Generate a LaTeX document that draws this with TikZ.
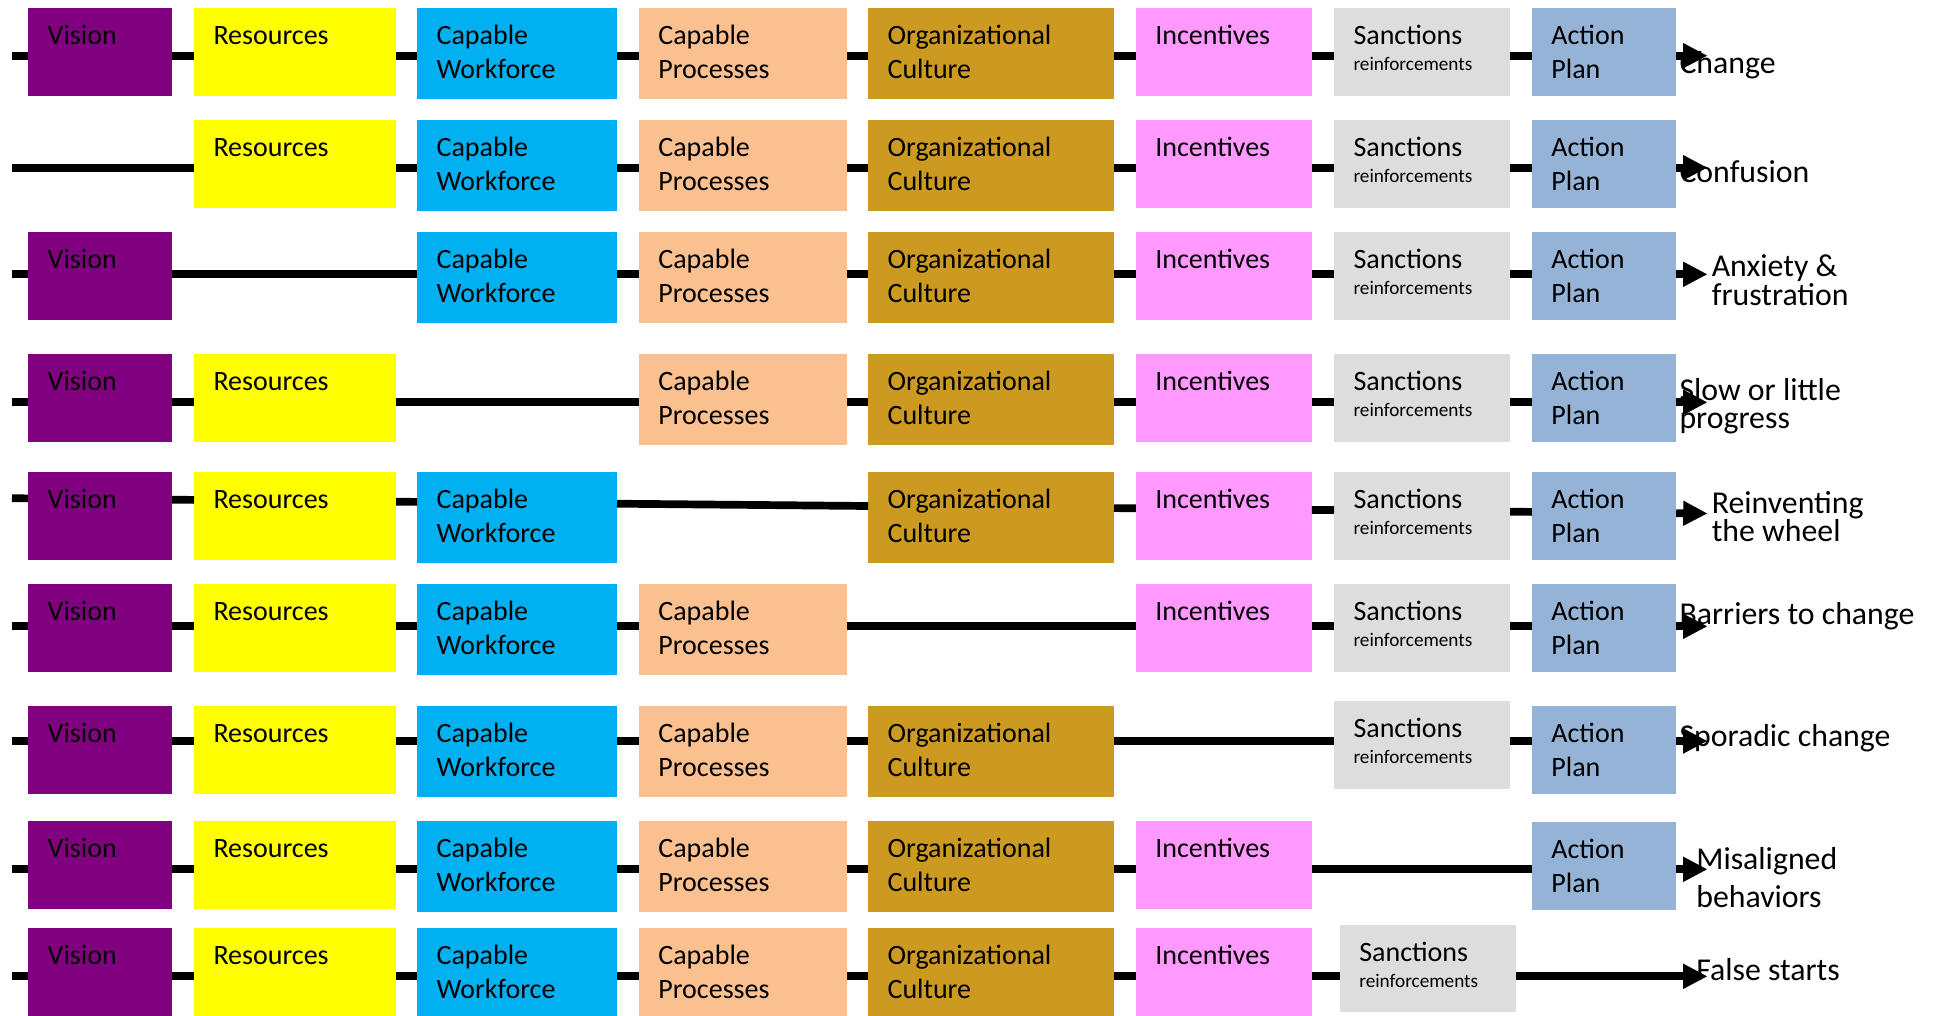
\documentclass[tikz,border=0pt]{standalone}
\usepackage{fontspec}
\setmainfont{Carlito}
\usetikzlibrary{arrows.meta}

\definecolor{cV}{HTML}{800080}
\definecolor{cR}{HTML}{FFFF00}
\definecolor{cW}{HTML}{00B0F0}
\definecolor{cP}{HTML}{FAC090}
\definecolor{cC}{HTML}{CC9A20}
\definecolor{cI}{HTML}{FF99FF}
\definecolor{cS}{HTML}{DDDDDD}
\definecolor{cA}{HTML}{95B3D7}

\tikzset{
  blk/.style={anchor=north west, inner sep=0pt, outer sep=0pt, draw=none},
  btxt/.style={anchor=base west, inner sep=0pt, outer sep=0pt, align=left,
    font=\fontsize{14}{16.7}\selectfont},
  lbl/.style={anchor=base west, inner sep=0pt, outer sep=0pt, align=left,
    font=\fontsize{15.9}{14}\selectfont},
  conn/.style={line width=3.85pt, black},
  tip/.style={conn, -{Triangle[length=12.2pt,width=11.7pt]}}
}

% small second line of the Sanctions boxes
\newcommand\rf{\fontsize{9.6}{10}\selectfont}

% a coloured block with its caption in the upper left corner
% #1 name, #2 left x, #3 top y, #4 width, #5 height, #6 fill, #7 caption,
% #8 distance from the top to the baseline of the caption's last line
\newcommand\mkbox[8]{%
  \node[blk, fill=#6, minimum width={#4*0.5pt}, minimum height={#5*0.5pt}] (#1) at (#2,#3) {};
  \node[btxt] (#1t) at ([shift={(19.5,#8)}]#1.north west) {#7};
}
% the eight blocks of a row: #1 row, #2 top y
\newcommand\bV[2]{\mkbox{v#1}{28.2}{#2}{144}{88}{cV}{Vision}{36.8}}
\newcommand\bR[2]{\mkbox{r#1}{194}{#2}{202.1}{88}{cR}{Resources}{36.8}}
\newcommand\bW[2]{\mkbox{w#1}{417.1}{#2}{199.9}{90.7}{cW}{Capable\\Workforce}{70.2}}
\newcommand\bP[2]{\mkbox{p#1}{638.9}{#2}{208.2}{90.7}{cP}{Capable\\Processes}{70.2}}
\newcommand\bC[2]{\mkbox{c#1}{868.1}{#2}{245.9}{90.7}{cC}{Organizational\\Culture}{70.2}}
\newcommand\bI[2]{\mkbox{i#1}{1135.8}{#2}{176}{88}{cI}{Incentives}{36.8}}
\newcommand\bS[2]{\mkbox{s#1}{1334}{#2}{176.1}{88}{cS}{Sanctions\\[-3.85pt]{\rf reinforcements}}{62.3}}
\newcommand\bA[2]{\mkbox{a#1}{1531.9}{#2}{144.3}{88}{cA}{Action\\Plan}{70.2}}

% link between two blocks at the height of a row coordinate
\newcommand\seg[3]{\draw[conn] (#1.east |- #3) -- (#2.west |- #3);}

\begin{document}
\begin{tikzpicture}[x=0.5pt,y=-0.5pt]
\useasboundingbox (0,0) rectangle (1936,1016);

% ---------- row 1: everything in place -> Change
\bV{1}{8}\bR{1}{8}\bW{1}{8}\bP{1}{8}\bC{1}{8}\bI{1}{8}\bS{1}{8}\bA{1}{8}
\coordinate (st1) at (12,55.7);
\coordinate (en1) at (1707.6,55.7);
\draw[conn] (st1) -- (v1.west |- st1);
\seg{v1}{r1}{st1}\seg{r1}{w1}{st1}\seg{w1}{p1}{st1}\seg{p1}{c1}{st1}
\seg{c1}{i1}{st1}\seg{i1}{s1}{st1}\seg{s1}{a1}{st1}
\node[lbl] (l1) at (1679.5,73.3) {Change};
\draw[tip] (a1.east |- en1) -- (en1);

% ---------- row 2: no vision -> Confusion
\bR{2}{120}\bW{2}{120}\bP{2}{120}\bC{2}{120}\bI{2}{120}\bS{2}{120}\bA{2}{120}
\coordinate (st2) at (12,167.7);
\coordinate (en2) at (1707.6,167.7);
\draw[conn] (st2) -- (r2.west |- st2);
\seg{r2}{w2}{st2}\seg{w2}{p2}{st2}\seg{p2}{c2}{st2}
\seg{c2}{i2}{st2}\seg{i2}{s2}{st2}\seg{s2}{a2}{st2}
\node[lbl] (l2) at (1679.5,182.7) {Confusion};
\draw[tip] (a2.east |- en2) -- (en2);

% ---------- row 3: no resources -> Anxiety & frustration
\bV{3}{232}\bW{3}{232}\bP{3}{232}\bC{3}{232}\bI{3}{232}\bS{3}{232}\bA{3}{232}
\coordinate (st3) at (12,274.3);
\coordinate (en3) at (1707.6,274.3);
\draw[conn] (st3) -- (v3.west |- st3);
\seg{v3}{w3}{st3}\seg{w3}{p3}{st3}\seg{p3}{c3}{st3}
\seg{c3}{i3}{st3}\seg{i3}{s3}{st3}\seg{s3}{a3}{st3}
\node[lbl] (l3) at (1711.8,305) {Anxiety \&\\frustration};
\draw[tip] (a3.east |- en3) -- (en3);

% ---------- row 4: no capable workforce -> Slow or little progress
\bV{4}{354}\bR{4}{354}\bP{4}{354}\bC{4}{354}\bI{4}{354}\bS{4}{354}\bA{4}{354}
\coordinate (st4) at (12,402.3);
\coordinate (en4) at (1707.6,402.3);
\draw[conn] (st4) -- (v4.west |- st4);
\seg{v4}{r4}{st4}\seg{r4}{p4}{st4}\seg{p4}{c4}{st4}
\seg{c4}{i4}{st4}\seg{i4}{s4}{st4}\seg{s4}{a4}{st4}
\node[lbl] (l4) at (1679.5,428.3) {Slow or little\\progress};
\draw[tip] (a4.east |- en4) -- (en4);

% ---------- row 5: no capable processes -> Reinventing the wheel (line drifts down)
\bV{5}{472}\bR{5}{472}\bW{5}{472}\bC{5}{472}\bI{5}{472}\bS{5}{472}\bA{5}{472}
\coordinate (st5) at (12,498.2);
\coordinate (en5) at (1707.6,513.5);
\draw[conn] (st5) -- (v5.west |- 0,498.4);
\draw[conn] (v5.east |- 0,499.7) -- (r5.west |- 0,499.9);
\draw[conn] (r5.east |- 0,501.7) -- (w5.west |- 0,501.9);
\draw[conn] (w5.east |- 0,503.7) -- (c5.west |- 0,506.0);
\draw[conn] (c5.east |- 0,508.1) -- (i5.west |- 0,508.3);
\draw[conn] (i5.east |- 0,509.9) -- (s5.west |- 0,510.1);
\draw[conn] (s5.east |- 0,511.7) -- (a5.west |- 0,511.9);
\node[lbl] (l5) at (1711.8,541.5) {Reinventing\\the wheel};
\draw[tip] (a5.east |- 0,513.2) -- (en5);

% ---------- row 6: no organizational culture -> Barriers to change
\bV{6}{584}\bR{6}{584}\bW{6}{584}\bP{6}{584}\bI{6}{584}\bS{6}{584}\bA{6}{584}
\coordinate (st6) at (12,626.3);
\coordinate (en6) at (1707.6,626.3);
\draw[conn] (st6) -- (v6.west |- st6);
\seg{v6}{r6}{st6}\seg{r6}{w6}{st6}\seg{w6}{p6}{st6}
\seg{p6}{i6}{st6}\seg{i6}{s6}{st6}\seg{s6}{a6}{st6}
\node[lbl] (l6) at (1679.5,624) {Barriers to change};
\draw[tip] (a6.east |- en6) -- (en6);

% ---------- row 7: no incentives -> Sporadic change
\bV{7}{706}\bR{7}{706}\bW{7}{706}\bP{7}{706}\bC{7}{706}\bS{7}{701}\bA{7}{706}
\coordinate (st7) at (12,741);
\coordinate (en7) at (1707.6,741);
\draw[conn] (st7) -- (v7.west |- st7);
\seg{v7}{r7}{st7}\seg{r7}{w7}{st7}\seg{w7}{p7}{st7}
\seg{p7}{c7}{st7}\seg{c7}{s7}{st7}\seg{s7}{a7}{st7}
\node[lbl] (l7) at (1679.5,746.7) {Sporadic change};
\draw[tip] (a7.east |- en7) -- (en7);

% ---------- row 8: no sanctions -> Misaligned behaviors
\bV{8}{821}\bR{8}{821}\bW{8}{821}\bP{8}{821}\bC{8}{821}\bI{8}{821}\bA{8}{822}
\coordinate (st8) at (12,869.3);
\coordinate (en8) at (1707.6,869.3);
\draw[conn] (st8) -- (v8.west |- st8);
\seg{v8}{r8}{st8}\seg{r8}{w8}{st8}\seg{w8}{p8}{st8}
\seg{p8}{c8}{st8}\seg{c8}{i8}{st8}\seg{i8}{a8}{st8}
\node[lbl, font=\fontsize{15.9}{19.2}\selectfont] (l8) at (1696.3,907.7) {Misaligned\\behaviors};
\draw[tip] (a8.east |- en8) -- (en8);

% ---------- row 9: no action plan -> False starts
\bV{9}{928}\bR{9}{928}\bW{9}{928}\bP{9}{928}\bC{9}{928}\bI{9}{928}
\mkbox{s9}{1339.8}{925}{176.2}{87.3}{cS}{Sanctions\\[-3.85pt]{\rf reinforcements}}{62.3}
\coordinate (st9) at (12,976.3);
\coordinate (en9) at (1707.6,976.3);
\draw[conn] (st9) -- (v9.west |- st9);
\seg{v9}{r9}{st9}\seg{r9}{w9}{st9}\seg{w9}{p9}{st9}
\seg{p9}{c9}{st9}\seg{c9}{i9}{st9}\seg{i9}{s9}{st9}
\node[lbl] (l9) at (1696.3,980) {False starts};
\draw[tip] (s9.east |- en9) -- (en9);
\end{tikzpicture}
\end{document}
